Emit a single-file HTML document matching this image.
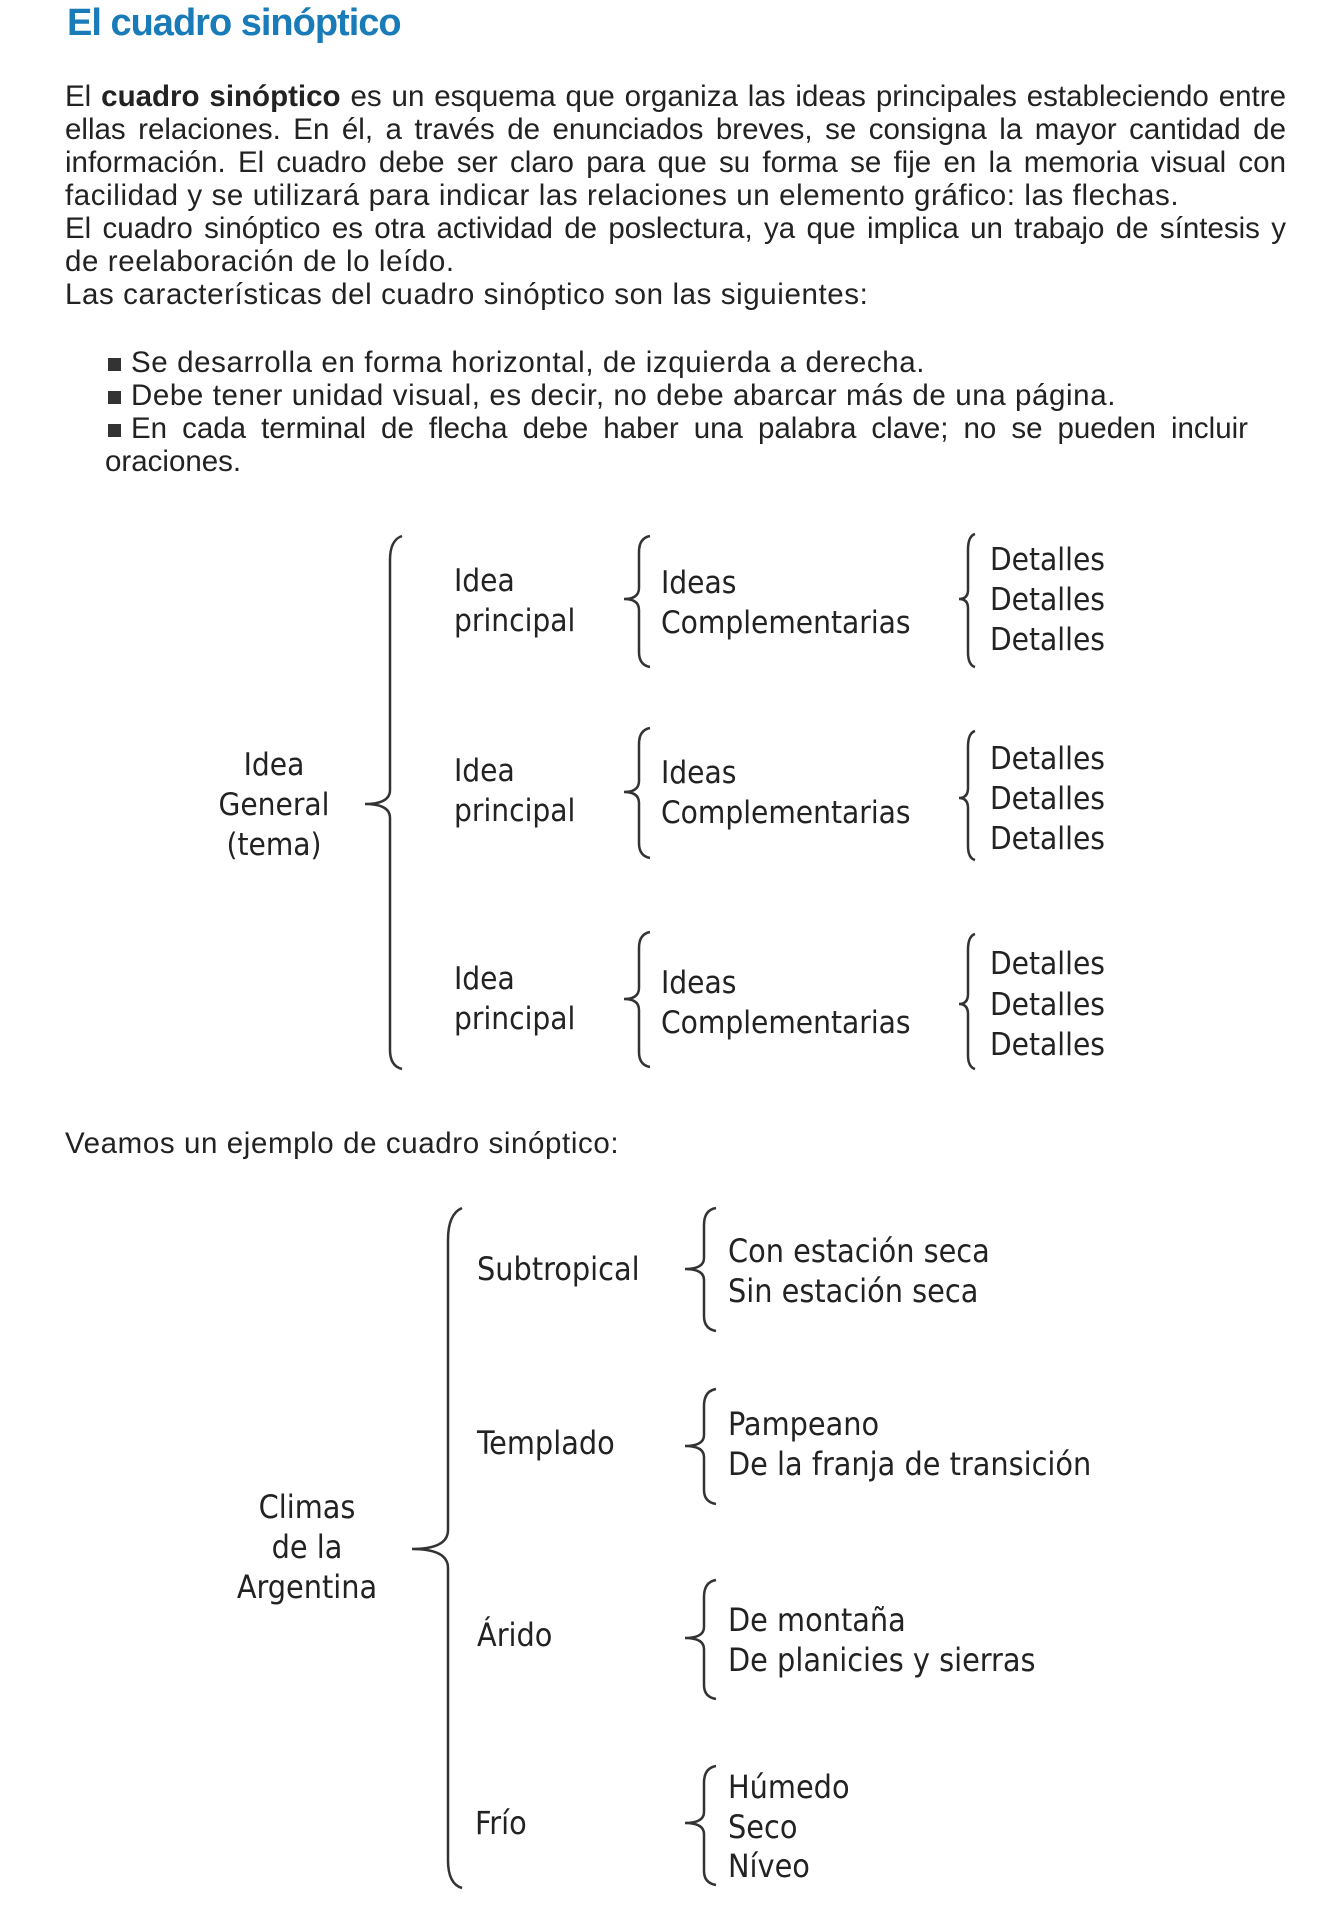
<!DOCTYPE html>
<html><head><meta charset="utf-8"><style>
body{margin:0;background:#fff;width:1328px;height:1914px;position:relative;overflow:hidden;font-family:"Liberation Sans",sans-serif;color:#222}
.t{position:absolute;left:67px;top:2px;font-size:38px;color:#1a7bb9;font-weight:bold;letter-spacing:-1px}
.p{position:absolute;left:65px;width:1221px;font-size:29.5px;line-height:33px}
.p div{white-space:nowrap}
.j{text-align:justify;text-align-last:justify;white-space:normal!important}
.ls{letter-spacing:0.6px}
.b{position:absolute;font-size:29.5px;line-height:33px}
.sq{display:inline-block;width:13px;height:13px;background:#333;margin-right:10px;vertical-align:1px}
svg{position:absolute;left:0;top:0}
svg text{font-family:"DejaVu Sans Condensed","DejaVu Sans",sans-serif;font-size:31.3px;fill:#222}
svg .k text{font-size:32px}
</style></head><body>
<div class="t">El cuadro sinóptico</div>
<div class="p" style="top:80px">
<div class="j">El <b>cuadro sinóptico</b> es un esquema que organiza las ideas principales estableciendo entre</div>
<div class="j">ellas relaciones. En él, a través de enunciados breves, se consigna la mayor cantidad de</div>
<div class="j">información. El cuadro debe ser claro para que su forma se fije en la memoria visual con</div>
<div class="ls">facilidad y se utilizará para indicar las relaciones un elemento gráfico: las flechas.</div>
<div class="j">El cuadro sinóptico es otra actividad de poslectura, ya que implica un trabajo de síntesis y</div>
<div class="ls">de reelaboración de lo leído.</div>
<div class="ls">Las características del cuadro sinóptico son las siguientes:</div>
</div>
<div class="b" style="left:108px;top:346px;width:1140px">
<div class="ls"><span class="sq"></span>Se desarrolla en forma horizontal, de izquierda a derecha.</div>
<div class="ls"><span class="sq"></span>Debe tener unidad visual, es decir, no debe abarcar más de una página.</div>
<div style="text-align:justify;text-align-last:justify"><span class="sq"></span>En cada terminal de flecha debe haber una palabra clave; no se pueden incluir</div>
<div style="margin-left:-3px">oraciones.</div>
</div>
<div class="b ls" style="left:65px;top:1127px">Veamos un ejemplo de cuadro sinóptico:</div>
<svg width="1328" height="1914" fill="none" stroke="#333" stroke-width="2.5">
<g>
<path d="M402,536 Q390,540 390,560 L390,790 Q390,804 365,804 Q390,804 390,818 L390,1050 Q390,1066 402,1069"/>
<path d="M650,536 Q639,538 639,552 L639,588 Q639,599 624,599 Q639,599 639,610 L639,652 Q639,665 650,667"/>
<path d="M650,728 Q639,730 639,744 L639,781 Q639,792 624,792 Q639,792 639,803 L639,843 Q639,856 650,858"/>
<path d="M650,932 Q639,934 639,948 L639,988 Q639,999 624,999 Q639,999 639,1010 L639,1052 Q639,1065 650,1067"/>
<path d="M975,534 Q968,536 968,550 L968,590 Q968,599 959,599 Q968,599 968,608 L968,652 Q968,665 975,667"/>
<path d="M975,731 Q968,733 968,747 L968,788 Q968,798 959,798 Q968,798 968,808 L968,846 Q968,858 975,860"/>
<path d="M975,934 Q968,936 968,950 L968,994 Q968,1004 959,1004 Q968,1004 968,1014 L968,1055 Q968,1067 975,1069"/>
<path d="M462,1208 Q448,1214 448,1240 L448,1530 Q448,1549 412,1549 Q448,1549 448,1568 L448,1860 Q448,1884 462,1888"/>
<path d="M716,1208 Q704,1210 704,1225 L704,1258 Q704,1269 685,1269 Q704,1269 704,1280 L704,1316 Q704,1329 716,1331"/>
<path d="M716,1389 Q704,1391 704,1406 L704,1435 Q704,1446 685,1446 Q704,1446 704,1457 L704,1490 Q704,1502 716,1504"/>
<path d="M716,1580 Q704,1582 704,1597 L704,1627 Q704,1638 685,1638 Q704,1638 704,1649 L704,1685 Q704,1697 716,1699"/>
<path d="M716,1766 Q704,1768 704,1783 L704,1812 Q704,1823 685,1823 Q704,1823 704,1834 L704,1871 Q704,1883 716,1885"/>
</g>
<g stroke="none">
<text x="274" y="775" text-anchor="middle">Idea</text>
<text x="274" y="815" text-anchor="middle">General</text>
<text x="274" y="855" text-anchor="middle">(tema)</text>
<text x="454" y="591">Idea</text><text x="454" y="631">principal</text>
<text x="454" y="781">Idea</text><text x="454" y="821">principal</text>
<text x="454" y="989">Idea</text><text x="454" y="1029">principal</text>
<text x="661" y="593">Ideas</text><text x="661" y="633">Complementarias</text>
<text x="661" y="783">Ideas</text><text x="661" y="823">Complementarias</text>
<text x="661" y="993">Ideas</text><text x="661" y="1033">Complementarias</text>
<text x="990" y="570">Detalles</text><text x="990" y="610">Detalles</text><text x="990" y="650">Detalles</text>
<text x="990" y="769">Detalles</text><text x="990" y="809">Detalles</text><text x="990" y="849">Detalles</text>
<text x="990" y="974">Detalles</text><text x="990" y="1015">Detalles</text><text x="990" y="1055">Detalles</text>
</g>
<g stroke="none" class="k">
<text x="307" y="1518" text-anchor="middle">Climas</text>
<text x="307" y="1558" text-anchor="middle">de la</text>
<text x="307" y="1598" text-anchor="middle">Argentina</text>
<text x="477" y="1280">Subtropical</text>
<text x="477" y="1454">Templado</text>
<text x="477" y="1646">Árido</text>
<text x="475" y="1834">Frío</text>
<text x="728" y="1262">Con estación seca</text>
<text x="728" y="1302">Sin estación seca</text>
<text x="728" y="1435">Pampeano</text>
<text x="728" y="1475">De la franja de transición</text>
<text x="728" y="1631">De montaña</text>
<text x="728" y="1671">De planicies y sierras</text>
<text x="728" y="1798">Húmedo</text>
<text x="728" y="1838">Seco</text>
<text x="728" y="1877">Níveo</text>
</g>
</svg>
</body></html>
